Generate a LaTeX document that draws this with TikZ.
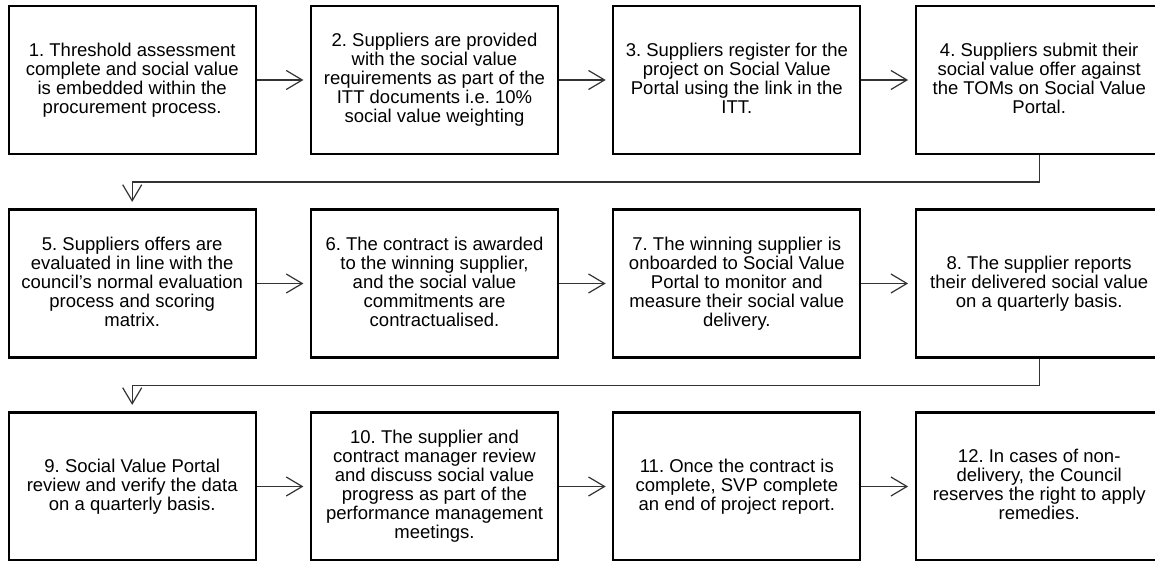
\documentclass[tikz,border=0pt]{standalone}
\usepackage{fontspec}
\setmainfont{Liberation Sans}
\usetikzlibrary{arrows.meta}
\frenchspacing

\begin{document}
\begin{tikzpicture}[x=1pt,y=1pt,
    stage/.style={draw, line width=2.2pt, minimum width=247pt,
        minimum height=148pt, inner sep=0pt, align=center,
        font=\fontsize{18.5}{19}\selectfont,
        execute at begin node={\rule{0pt}{16pt}},
        execute at end node={\rule[-4pt]{0pt}{4pt}}},
    flow/.style={draw=black!80, line width=1.2pt,
        -{Straight Barb[length=16pt,width=19pt]}, shorten >=6.5pt}]
    \pgfmathsetmacro{\ca}{132.2}
    \pgfmathsetmacro{\cb}{434.5}
    \pgfmathsetmacro{\cc}{736.8}
    \pgfmathsetmacro{\cd}{1039.2}
    \pgfmathsetmacro{\ra}{481}
    \pgfmathsetmacro{\rb}{277.5}
    \pgfmathsetmacro{\rc}{74.5}
    \pgfmathsetmacro{\drop}{27}

    % Page frame
    \path [use as bounding box, fill=white] (0,0) rectangle (1155,561);

    % First row
    \node [stage] (s1) at (\ca,\ra) {1. Threshold assessment\\complete and social value\\is embedded within the\\procurement process.};
    \node [stage] (s2) at (\cb,\ra) {2. Suppliers are provided\\with the social value\\requirements as part of the\\ITT documents i.e. 10\%\\social value weighting};
    \node [stage] (s3) at (\cc,\ra) {3. Suppliers register for the\\project on Social Value\\Portal using the link in the\\ITT.};
    \node [stage] (s4) at (\cd,\ra) {4. Suppliers submit their\\social value offer against\\the TOMs on Social Value\\Portal.};

    % Second row
    \node [stage] (s5) at (\ca,\rb) {5. Suppliers offers are\\evaluated in line with the\\council's normal evaluation\\process and scoring\\matrix.};
    \node [stage] (s6) at (\cb,\rb) {6. The contract is awarded\\to the winning supplier,\\and the social value\\commitments are\\contractualised.};
    \node [stage] (s7) at (\cc,\rb) {7. The winning supplier is\\onboarded to Social Value\\Portal to monitor and\\measure their social value\\delivery.};
    \node [stage] (s8) at (\cd,\rb) {8. The supplier reports\\their delivered social value\\on a quarterly basis.};

    % Third row
    \node [stage] (s9) at (\ca,\rc) {9. Social Value Portal\\review and verify the data\\on a quarterly basis.};
    \node [stage] (s10) at (\cb,\rc) {10. The supplier and\\contract manager review\\and discuss social value\\progress as part of the\\performance management\\meetings.};
    \node [stage] (s11) at (\cc,\rc) {11. Once the contract is\\complete, SVP complete\\an end of project report.};
    \node [stage] (s12) at (\cd,\rc) {12. In cases of non-\\delivery, the Council\\reserves the right to apply\\remedies.};

    % Draw the arrows
    \draw [flow] (s1) -- (s2);
    \draw [flow] (s2) -- (s3);
    \draw [flow] (s3) -- (s4);
    \draw [flow] (s4.south) -- ++(0,-\drop) -| (s5.north);
    \draw [flow] (s5) -- (s6);
    \draw [flow] (s6) -- (s7);
    \draw [flow] (s7) -- (s8);
    \draw [flow] (s8.south) -- ++(0,-\drop) -| (s9.north);
    \draw [flow] (s9) -- (s10);
    \draw [flow] (s10) -- (s11);
    \draw [flow] (s11) -- (s12);

\end{tikzpicture}
\end{document}
